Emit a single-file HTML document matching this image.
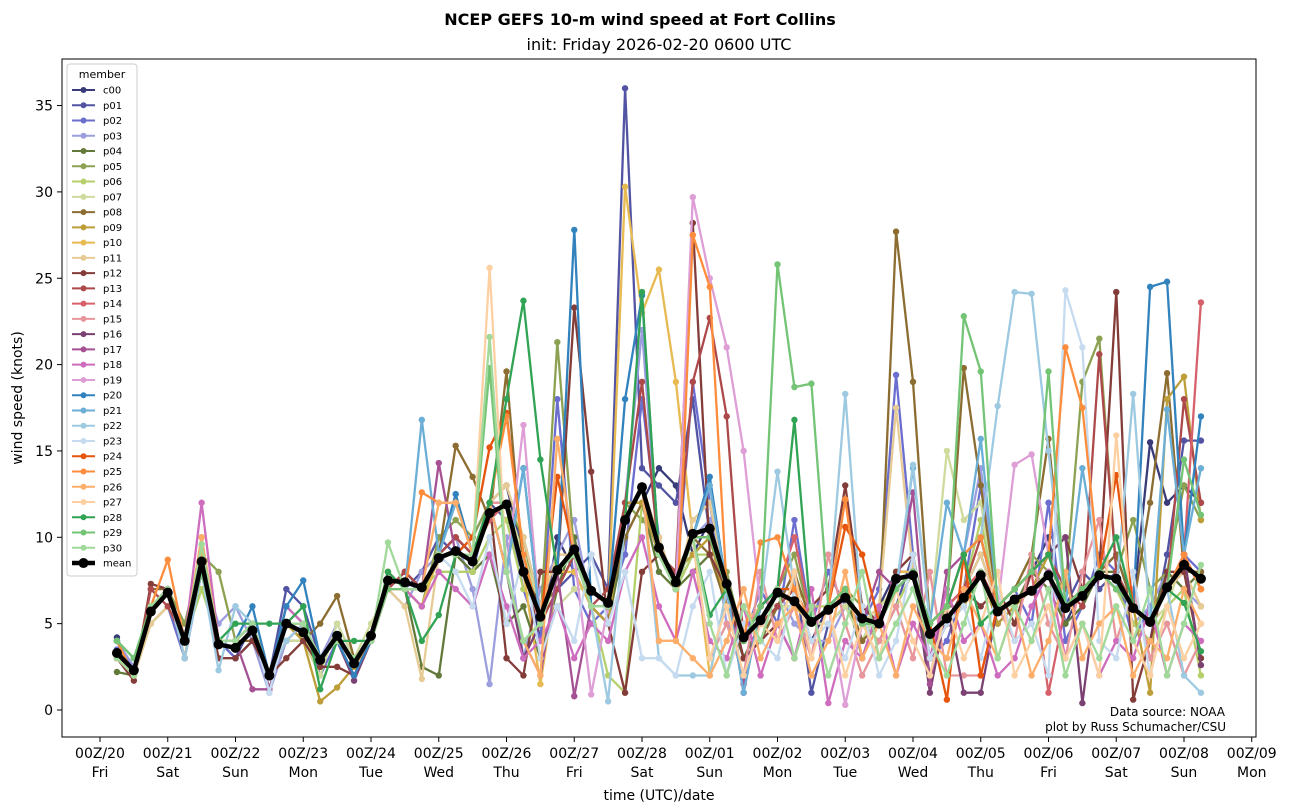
<!DOCTYPE html>
<html><head><meta charset="utf-8"><style>
body{margin:0;background:#fff;}
svg{display:block;font-family:"DejaVu Sans","Liberation Sans",sans-serif;}
</style></head><body>
<svg id="chart" width="1290" height="812" viewBox="0 0 1290 812">
<text x="640" y="25" text-anchor="middle" font-size="16" font-weight="bold">NCEP GEFS 10-m wind speed at Fort Collins</text>
<text x="659" y="50" text-anchor="middle" font-size="16">init: Friday 2026-02-20 0600 UTC</text>
<g id="plot"></g>
<rect x="62" y="59" width="1194" height="678" fill="none" stroke="#000" stroke-width="1"/>
<g id="axes"></g>
<text x="659" y="800" text-anchor="middle" font-size="14">time (UTC)/date</text>
<text transform="translate(22,398) rotate(-90)" text-anchor="middle" font-size="14">wind speed (knots)</text>
<text x="1225" y="716" text-anchor="end" font-size="12">Data source: NOAA</text>
<text x="1226" y="731" text-anchor="end" font-size="12">plot by Russ Schumacher/CSU</text>
<g id="legend"></g>
</svg>
<script>
const memberNames=["c00","p01","p02","p03","p04","p05","p06","p07","p08","p09","p10","p11","p12","p13","p14","p15","p16","p17","p18","p19","p20","p21","p22","p23","p24","p25","p26","p27","p28","p29","p30"];
const memberColors=["#393b79","#5254a3","#6b6ecf","#9c9ede","#637939","#8ca252","#b5cf6b","#cedb9c","#8c6d31","#bd9e39","#e7ba52","#e7cb94","#843c39","#ad494a","#d6616b","#e7969c","#7b4173","#a55194","#ce6dbd","#de9ed6","#3182bd","#6baed6","#9ecae1","#c6dbef","#e6550d","#fd8d3c","#fdae6b","#fdd0a2","#31a354","#74c476","#a1d99b"];
const xTickLabels=["00Z/20","00Z/21","00Z/22","00Z/23","00Z/24","00Z/25","00Z/26","00Z/27","00Z/28","00Z/01","00Z/02","00Z/03","00Z/04","00Z/05","00Z/06","00Z/07","00Z/08","00Z/09"];
const xDayLabels=["Fri","Sat","Sun","Mon","Tue","Wed","Thu","Fri","Sat","Sun","Mon","Tue","Wed","Thu","Fri","Sat","Sun","Mon"];
const yTicks=[0,5,10,15,20,25,30,35];
const meanValues=[3.3,2.3,5.7,6.8,4.0,8.6,3.8,3.6,4.6,2.0,5.0,4.5,2.9,4.3,2.7,4.3,7.5,7.4,7.1,8.8,9.2,8.6,11.4,11.9,8.0,5.4,8.1,9.3,6.9,6.2,11.0,12.9,9.4,7.4,10.2,10.5,7.3,4.2,5.2,6.8,6.3,5.1,5.8,6.5,5.3,5.0,7.6,7.8,4.4,5.3,6.5,7.8,5.7,6.4,6.9,7.8,5.9,6.6,7.8,7.6,5.9,5.1,7.1,8.4,7.6];
const c00=[4.2,2.0,6,7,3,8,4,4,5,2,6,5,3,4,3,4,7,8,7,9,10,9,12,13,9,4,10,8,6,5,12,12,14,13,9,11,6,3,5,6,7,4,6,7,4,6,8,8,4,5,7,9,6,7,8,10,5,7,8,9,6,15.5,12,13,12];
const p01=[4,2,6,7,4,9,4,3,5,2,7,6,3,4,2,4,8,7,8,10,9,8,12,11,10,6,7,8,9,7,36,14,13,12,18,10,7,3,4,6,8,1,5,6,5,4,6,9,3,5,6,8,5,6,7,9,6,8,7,8,5,4,9,15.6,15.6];
const p02=[3.5,2.5,5,6,3,8,4,3,4,2,5,5,2,4,3,4,7,7,6,9,9,10,12,12,7,4,18,7,5,6,9,18,10,7,19,12,6,4,7,5,11,5,8,6,5,7,19.4,9,3,4,7,13,6,7,5,12,4,6,9,8,4,6,7,9,8];
const p03=[4,2.5,6,7,4,8,5,6,4,1,4,5,3,5,3,4,7,6,8,9,10,7,1.5,10,3,7,9,11,6,5,12,22,9,8,10,11,5,4,6,7,5,4,4,6,5,4,6,8,5,6,9,14,6,6,7,8,5,6,8,7,5,6,8,7,6];
const p04=[2.2,2,6,7,4,8,4,4,5,2,4,4,3,4,3,4,8,7,2.5,2,9,8,9,5,6,3,7,10,6,5,10,12,8,7,8,9,6,3,5,6,6,5,6,7,3,6,7,8,2,6,6,8,6,6,8,7,5,6,8,8,6,5,8,7,8];
const p05=[3,2,6,7,5,9,8,4,5,2,5,5,3,4,3,4,8,7,6,10,11,10,12,12,10,5,21.3,9,7,6,12,11,10,7,9,10,8,4,6,7,9,5,6,7,6,5,8,9,4,6,7,8,6,7,9,8,7,19,21.5,8,11,7,8,13,11];
const p06=[3,2,5,6,4,7,4,4,5,2,5,4,3,4,3,4,7,7,7,8,8,8,10,11,7,6,8,9,6,2,1,12,9,7,9,9,6,5,6,7,7,6,6,7,5,4,6,8,5,6,7,11,6,6,7,8,6,7,8,7,5,4,6,7,2];
const p07=[3,2,5,6,4,8,4,4,5,2,4,4,2,5,3,5,7,7,7,9,9,9,12,12,9,6,6,7,7,6,10,12,9,8,10,10,7,5,4,6,6,5,5,6,4,6,7,8,5,15,11,12,6,6,7,8,6,7,8,7,6,5,6,9,7];
const p08=[3,2,7,7,4,8,4,4,4,2,5,4,5,6.6,3,4,7,8,7,9,15.3,13.5,11,19.6,8,6,7,9,6,6,10,12,9,7,10,9,6,5,4,6,8,5,6,7,4,5,27.7,19,5,6,19.8,13,6,7,9,15.7,6,7,8,9,6,12,19.5,8,8];
const p09=[3,2,6,7,4,9,4,4,5,2,5,4,0.5,1.3,2.5,4,7,7,6,9,9,9,11,12,8,5,7,9,6,5,12,12,9,8,9,10,6,4,6,7,7,5,6,7,5,5,7,8,4,5,6,8,5,6,7,9,6,7,8,7,6,1,18,19.3,11];
const p10=[3,2,6,7,3,9,4,4,5,2,5,5,3,4,3,4,7,7,6,9,9,9,12,12,8,1.5,8,8,6,6,30.3,23,25.5,19,10,2,7,4,5,7,6,5,6,7,5,5,8,8,5,6,7,8,6,7,8,9,6,7,8,7,6,5,7,8,6];
const p11=[3,2,5,6,4,8,4,4,5,2,5,5,3,4,3,4,7,6,1.8,9,10,9,12,13,10,6,9,9,7,6,11,13,10,7,11,12,7,5,6,7,7,5,6,7,5,6,17.5,8,5,6,7,9,6,7,8,9,6,7,8,7,6,5,7,8,6];
const p12=[3,1.7,7.3,7,4,8,3,3,4,2,3,4,2.5,2.5,2,4,7,8,7,9,10,9,12,3,2,8,8,23.3,13.8,5,1,8,9,8,28.2,9,7,3,4,5,3,6,7,13,6,5,8,9,3,5,7,6,7,5,8,9,10,7,8,24.2,0.6,4,8,8,3];
const p13=[3,2,7,6,4,8,4,4,5,2,5,5,3,4,3,4,7,8,7,9,10,9,12,12,8,5,7,9,6,7,12,19,9,8,19,22.7,17,4,5,6,7,5,6,7,5,5,7,8,5,6,7,10,6,7,8,9,7,6,20.6,8,6,5,7,18,12];
const p14=[3,2,6,7,4,8,4,4,5,2,4,5,3,4,3,4,7,7,7,9,9,9,11,12,8,5,8,9,6,6,11,13,9,7,10,10,7,4,6,7,10,5,6,7,5,5,7,8,5,6,7,8,6,7,8,1,6,7,8,7,6,5,7,9,23.6];
const p15=[3,2,6,7,4,8,4,4,5,2,5,5,3,4,3,4,7,7,7,9,9,9,12,12,8,5,8,9,6,6,11,13,9,7,10,3,5,2,8,4,6,3,9,5,2,4,6,3,8,2,2,2,6,4,9,5,3,8,11,4,7,3,5,2,4];
const p16=[3,2,6,7,4,8,4,4,5,1.2,5,5,3,4,1.7,4,7,7,7,9,9,9,12,8,3,5,8,9,6,6,11,13,9,7,10,10,7,1,6,7,7,5,6,7,5,5,7,8,1,6,1,1,6,7,8,9,10,0.4,8,7,6,5,7,9,2.6];
const p17=[3,2,6,7,4,8,4,4,1.2,1.2,5,5,3,4,2,4,7,7,7,14.3,9,9,12,8,4,2,8,0.8,6,6,11,13,9,7,10,10,7,1.5,6,7,7,5,6,7,5,8,7,12.6,1.5,8,9,10,6,7,8,9,6,7,8,7,6,5,7,9,7];
const p18=[3,2,6,7,4,12,4,4,5,2,6,5,3,4,3,4,7,7,6,8,7,6,9,6,3,4,6,3,5,4,8,10,6,4,8,4,3,6,2,5,3,7,0.4,4,3,6,2,5,3,7,4,5,2,3,6,8,3,5,2,4,3,6,2,5,4];
const p19=[3,2,6,7,4,8,4,4,5,2,5,5,3,4,3,4,7,7,7,9,9,9,12,8,16.5,5,8,9,0.9,6,11,13,9,7,29.7,25,21,15,6,7,7,5,6,0.3,5,5,7,8,5,6,9,10,6,14.2,14.8,9,6,7,8,7,6,5,7,9,7];
const p20=[4,2,6,7,4,8,4,4,6,2,6,7.5,3,4,2,4,7,7,7,9,12.5,9,12,8,14,5,8,27.8,6,6,18,24,9,7,10,13.5,7,4,6,7,7,5,6,7,5,5,7,8,5,6,9,10,6,7,8,9,6,7,8,7,6,24.5,24.8,9,17];
const p21=[4,2,6,7,4,8,4,4,5,2,5,5,3,4,3,4,7,7,16.8,9,12,9,12,8,14,5,8,9,6,6,11,13,9,7,10,13,7,1,6,7,7,5,6,7,5,5,7,14,5,12,9,15.7,6,7,8,9,6,14,8,7,6,5,17.4,9,14];
const p22=[3,2,6,7,3,8,2.3,6,5,2,4,5,3,4,3,4,7,7,7,9,9,9,12,8,4,5,8,9,6,0.5,11,13,3,2,2,2,7,4,6,13.8,7,5,6,18.3,5,5,7,14.2,5,6,9,10,17.6,24.2,24.1,15,6,7,8,7,18.3,5,7,2,1];
const p23=[3,2,6,7,4,8,4,4,5,1,5,5,3,4,3,4,7,7,7,9,8,6,10,5,9,3,6,4,9,5,8,3,3,2,6,8,2,5,4,3,7,4,5,3,6,2,4,9,3,5,6,3,7,4,5,2,24.3,21,4,3,8,2,6,3,5];
const p24=[3,2,6,7,4,8,4,4,5,2,5,5,3,4,3,4,7,7,7,9,9,10,15.2,17.2,9,5,13.5,9,6,6,11,13,9,7,10,10,7,4,6,7,7,5,6,10.6,9,5,7,8,5,0.6,9,2,6,7,8,9,6,7,8,13.6,6,5,7,9,7];
const p25=[4,2,6,8.7,4,10,4,4,5,2,5,5,3,4,3,4,8,7,12.6,12,12,9,12,17,9,5,8,9,6,6,11,13,4,4,27.5,24.5,7,4,9.7,10,7,5,6,12.2,5,5,7,8,5,6,9,10,6,7,8,9,21,17.5,8,7,6,5,7,9,7];
const p26=[3,2,6,7,4,10,4,4,5,2,5,5,3,4,3,4,8,7,7,12,12,9,12,8,4,2,15.7,9,6,6,11,13,4,4,3,2,4,7,3,5,6,2,4,8,3,5,2,6,4,3,7,5,3,6,2,4,8,3,5,6,2,4,3,7,5];
const p27=[3,2,6,7,4,8,4,4,5,2,5,5,3,4,3,4,7,7,7,9,9,9,25.6,8,4,5,8,9,6,6,11,13,9,7,10,3,6,2,5,4,8,3,6,2,5,3,7,4,2,6,3,5,8,2,4,6,3,5,2,15.9,4,2,6,3,5];
const p28=[4,3,6,7,4,8,4,5,5,5,5,6,1.2,4,4,4,8,7,4,5.5,9,9,12,18,23.7,14.5,8,9,6,6,11,24.2,9,7,10,5.5,7,4,6,7,16.8,5,6,7,5,5,7,8,5,6,9,5,6,7,8,9,6,7,8,10,6,5,7,6.2,3.4];
const p29=[4,3,6,7,4,8,4,4,5,2,5,5,3,4,3,4,7,7,7,9,9,9,19.8,8,4,5,8,9,6,6,11,13,9,7,10,10,7,4,6,25.8,18.7,18.9,6,7,5,5,7,8,5,6,22.8,19.6,6,7,8,19.6,6,7,8,7,6,5,7,14.5,11.3];
const p30=[3,2,6,7,4,9.6,4,4,5,2,5,5,3,4,3,4,9.7,7,7,9,9,9,21.6,8,4,5,8,9,6,6,11,13,9,7,10,5,2,6,4,7,3,6,2,5,8,3,5,7,4,2,5,8,3,6,4,7,2,5,3,6,4,7,2,5,8.4];
const memberSeries=[c00,p01,p02,p03,p04,p05,p06,p07,p08,p09,p10,p11,p12,p13,p14,p15,p16,p17,p18,p19,p20,p21,p22,p23,p24,p25,p26,p27,p28,p29,p30];

const NS="http://www.w3.org/2000/svg";
const X0=100, DAYPX=67.75, Y0=710, YPX=17.27;
function xScale(i){return X0+(6+6*i)/24*DAYPX;}
function xDay(d){return X0+d*DAYPX;}
function yScale(v){return Y0-v*YPX;}
function mk(tag,attrs,parent){const e=document.createElementNS(NS,tag);for(const k in attrs)e.setAttribute(k,attrs[k]);parent.appendChild(e);return e;}

const plot=document.getElementById('plot');
memberSeries.forEach((s,m)=>{
  const g=mk('g',{},plot);
  
  
  const pts=s.map((v,i)=>xScale(i).toFixed(1)+','+yScale(v).toFixed(1)).join(' ');
  const pl=mk('polyline',{points:pts,fill:'none',stroke:memberColors[m],'stroke-width':2.3,'stroke-linejoin':'round'},g);
  
  
  s.forEach((v,i)=>{
    const c=mk('circle',{cx:xScale(i),cy:yScale(v),r:3.2,fill:memberColors[m]},g);
    
    
  });
});
const mg=mk('g',{},plot);


const mpl=mk('polyline',{points:meanValues.map((v,i)=>xScale(i).toFixed(1)+','+yScale(v).toFixed(1)).join(' '),fill:'none',stroke:'#000','stroke-width':4.5,'stroke-linejoin':'round'},mg);


meanValues.forEach((v,i)=>{
  const c=mk('circle',{cx:xScale(i),cy:yScale(v),r:5,fill:'#000'},mg);
  
  
});

const axes=document.getElementById('axes');
yTicks.forEach(t=>{
  const y=yScale(t);
  const l=mk('line',{x1:57,x2:62,y1:y,y2:y,stroke:'#000'},axes);
  
  
  const tx=mk('text',{x:53,y:y+5,'text-anchor':'end','font-size':14},axes);
  tx.textContent=t;
  
  
});
xTickLabels.forEach((lab,d)=>{
  const x=xDay(d);
  const l=mk('line',{x1:x,x2:x,y1:737,y2:742,stroke:'#000'},axes);
  
  
  const t1=mk('text',{x:x,y:758,'text-anchor':'middle','font-size':14},axes);
  t1.textContent=lab;
  
  
  const t2=mk('text',{x:x,y:777,'text-anchor':'middle','font-size':14},axes);
  t2.textContent=xDayLabels[d];
  
  
});

const leg=document.getElementById('legend');
const box=mk('rect',{x:67,y:64,width:70,height:512,rx:3,fill:'#fff','fill-opacity':0.85,stroke:'#ccc'},leg);


const lt=mk('text',{x:102,y:78,'text-anchor':'middle','font-size':11},leg);
lt.textContent='member';


const names=memberNames.concat(['mean']);
const cols=memberColors.concat(['#000']);
names.forEach((n,k)=>{
  const y=90+k*15.26;
  const g=mk('g',{},leg);
  
  
  const isMean=n==='mean';
  mk('line',{x1:72,x2:95,y1:y,y2:y,stroke:cols[k],'stroke-width':isMean?4.5:2},g);
  mk('circle',{cx:83.5,cy:y,r:isMean?5:3,fill:cols[k]},g);
  const t=mk('text',{x:103,y:y+3.5,'font-size':10},g);
  t.textContent=n;
});
</script>
</body></html>
